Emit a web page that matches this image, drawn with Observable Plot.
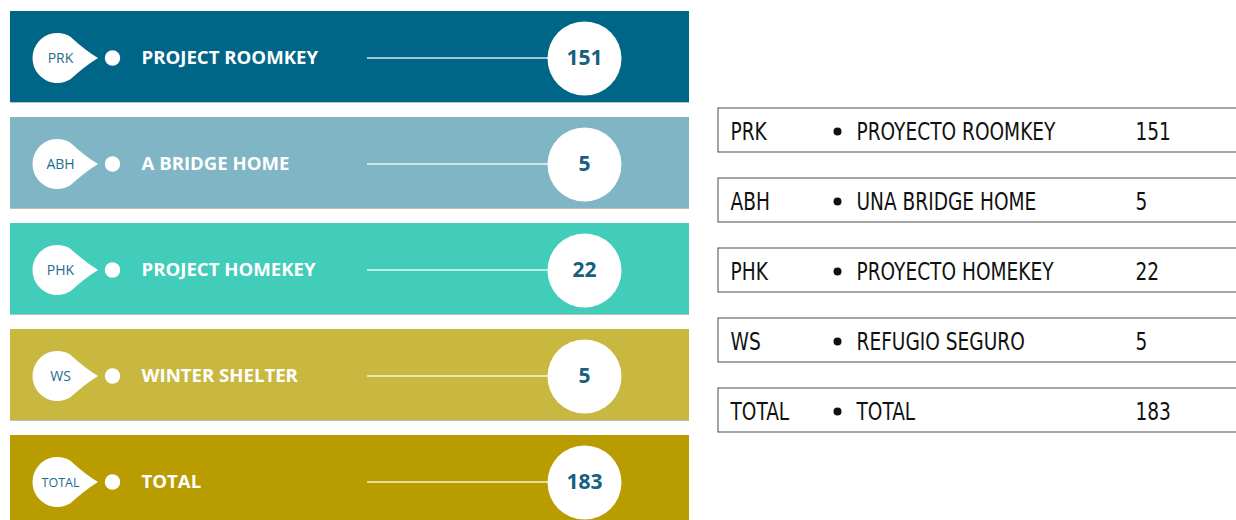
<!DOCTYPE html>
<html><head><meta charset="utf-8">
<script src="https://cdn.jsdelivr.net/npm/d3@7"></script>
<script src="https://cdn.jsdelivr.net/npm/@observablehq/plot@0.6"></script>
<style>
body{margin:0;background:#fff;}
#wrap{display:flex;width:1236px;height:520px;overflow:hidden;}
#wrap svg{display:block;flex:none;}
</style></head><body><div id="wrap"></div>
<script>
// ---- data ----
const keys = ["PRK", "ABH", "PHK", "WS", "TOTAL"];
const labelsEn = ["PROJECT ROOMKEY", "A BRIDGE HOME", "PROJECT HOMEKEY", "WINTER SHELTER", "TOTAL"];
const labelsEs = ["PROYECTO ROOMKEY", "UNA BRIDGE HOME", "PROYECTO HOMEKEY", "REFUGIO SEGURO", "TOTAL"];
const values = [151, 5, 22, 5, 183];
const colors = ["#006687", "#7fb5c4", "#41cdb9", "#c9b840", "#b99c00"];

const rows = keys.map((k, i) => ({key: k, en: labelsEn[i], es: labelsEs[i], value: values[i]}));

// teardrop badge symbol (circle with a point on the right)
const teardrop = {
  draw(context, size) {
    const r = Math.sqrt(size / Math.PI);
    const d = r * 1.62;
    const a = Math.acos(r / d) + 0.12;
    const px = r * Math.cos(a), py = r * Math.sin(a);
    const mx = (d + px) / 2, my = py / 2;
    context.moveTo(d, 0);
    context.quadraticCurveTo(mx, -my * 0.8, px, -py);
    context.arc(0, 0, r, -a, a, true);
    context.quadraticCurveTo(mx, my * 0.8, d, 0);
    context.closePath();
  }
};

const sans = "'Open Sans', 'Noto Sans', sans-serif";
const narrow = "'Liberation Sans Narrow', 'DejaVu Sans Condensed', 'Roboto', sans-serif";

const left = Plot.plot({
  width: 700, height: 520, margin: 0,
  style: {fontFamily: sans, background: "white"},
  x: {domain: [0, 700], range: [0, 700], axis: null},
  y: {domain: keys, range: [11, 527.5], paddingInner: 0.139, paddingOuter: 0, align: 0, axis: null},
  color: {domain: keys, range: colors},
  marks: [
    Plot.barX(rows, {x1: 10, x2: 689, y: "key", fill: "#bdbdbd", dy: 1}),
    Plot.barX(rows, {x1: 10, x2: 689, y: "key", fill: "key"}),
    Plot.dot(rows, {x: 57, y: "key", dy: 1, r: 25, symbol: teardrop, fill: "white"}),
    Plot.text(rows, {x: 60, y: "key", dy: 1.5, text: "key", fill: "#1d6b8e",
      fontSize: d => d.key === "TOTAL" ? 12.5 : 14, fontFamily: sans}),
    Plot.dot(rows, {x: 112, y: "key", dy: 1, r: 7.7, fill: "white"}),
    Plot.text(rows, {x: 141, y: "key", dy: 1.5, text: "en", textAnchor: "start", fill: "white",
      fontWeight: "bold", fontSize: 18.6, fontFamily: sans}),
    Plot.ruleY(rows, {x1: 367, x2: 548, y: "key", dy: 1, stroke: "white", strokeOpacity: 0.85, strokeWidth: 1.5}),
    Plot.dot(rows, {x: 584, y: "key", dy: 1.5, r: 37, fill: "white"}),
    Plot.text(rows, {x: 584, y: "key", dy: 1.5, text: d => String(d.value), fill: "#17607f",
      fontWeight: "bold", fontSize: 21, fontFamily: sans})
  ]
});

const right = Plot.plot({
  width: 536, height: 520, margin: 0,
  style: {fontFamily: narrow, background: "white"},
  x: {domain: [700, 1236], range: [0, 536], axis: null},
  y: {domain: keys, range: [108, 435], paddingInner: 0.378, paddingOuter: 0, align: 0, axis: null},
  marks: [
    Plot.barX(rows, {x1: 718, x2: 1245, y: "key", fill: "white", stroke: "#4a4a4a", strokeWidth: 1}),
    Plot.text(rows, {x: 730, y: "key", dy: 2, text: "key", textAnchor: "start", fill: "#111",
      fontSize: 24, fontFamily: narrow}),
    Plot.dot(rows, {x: 837, y: "key", dy: 1, r: 4, fill: "#111"}),
    Plot.text(rows, {x: 856, y: "key", dy: 2, text: "es", textAnchor: "start", fill: "#111",
      fontSize: 24, fontFamily: narrow}),
    Plot.text(rows, {x: 1135, y: "key", dy: 2, text: d => String(d.value), textAnchor: "start", fill: "#111",
      fontSize: 24, fontFamily: narrow})
  ]
});

const wrap = document.getElementById("wrap");
wrap.appendChild(left);
wrap.appendChild(right);

// condense the table text horizontally (narrow face is not installed)
right.querySelectorAll("text").forEach(t => {
  const w = t.getComputedTextLength();
  if (w > 0) {
    t.setAttribute("textLength", (w * 0.86).toFixed(1));
    t.setAttribute("lengthAdjust", "spacingAndGlyphs");
  }
});
</script>
</body></html>
